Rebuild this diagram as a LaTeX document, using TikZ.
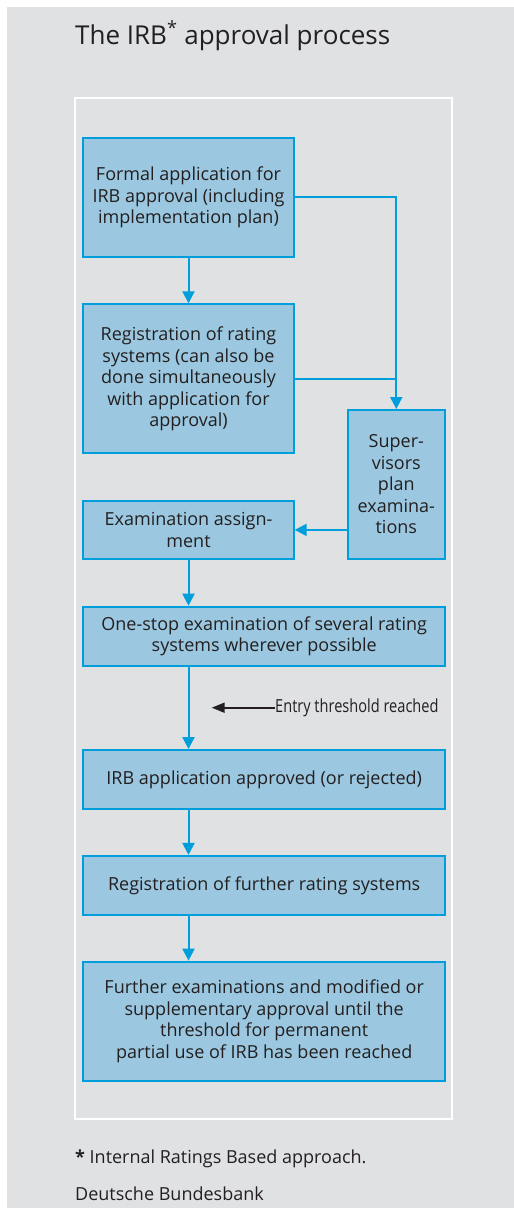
\documentclass[tikz,border=0pt]{standalone}
\usepackage{fontspec}
\setmainfont{Open Sans}
\newfontfamily\condfont[FakeStretch=0.81]{Open Sans}
\usetikzlibrary{arrows.meta}
\definecolor{bg}{RGB}{224,225,227}
\definecolor{boxfill}{RGB}{155,200,224}
\definecolor{boxline}{RGB}{0,158,219}
\definecolor{txt}{RGB}{35,31,32}
\tikzset{
  stepbox/.style={draw=boxline, fill=boxfill, line width=2pt, text=txt, align=center,
    inner sep=0pt, font=\fontsize{18}{21.5}\selectfont},
  flow/.style={draw=boxline, line width=2pt, -{Triangle[width=12pt,length=12pt]}},
  joinline/.style={draw=boxline, line width=2pt},
}
\begin{document}
\begin{tikzpicture}[x=1pt,y=-1pt]
\useasboundingbox (0,0) rectangle (514,1208);
\fill[bg] (7,7) rectangle (514,1208);
\node[anchor=base west, text=txt, font=\fontsize{26}{30}\selectfont, inner sep=0pt] (title) at (75,44) {The IRB\textsuperscript{*} approval process};
\draw[white, line width=1.5pt] (75,98) rectangle (452,1119);

\node[stepbox, minimum width=210.4pt, minimum height=119.3pt] (b1) at (188.5,197.3)
  {Formal application for\\IRB approval (including\\implementation plan)};
\node[stepbox, minimum width=210.4pt, minimum height=149pt] (b2) at (188.5,378.8)
  {Registration of rating\\systems (can also be\\done simultaneously\\with application for\\approval)};
\node[stepbox, minimum width=97.3pt, minimum height=149pt] (sup) at (396.3,484.5)
  {Super-\\visors\\plan\\examina-\\tions};
\node[stepbox, minimum width=210.4pt, minimum height=58.3pt] (exam) at (188.5,529.9)
  {Examination assign-\\ment};
\node[stepbox, minimum width=361.7pt, minimum height=59pt] (one) at (264.2,636.2)
  {One-stop examination of several rating\\systems wherever possible};
\node[stepbox, minimum width=361.7pt, minimum height=59.3pt] (irb) at (264.2,779.7)
  {IRB application approved (or rejected)};
\node[stepbox, minimum width=361.7pt, minimum height=58.7pt] (reg) at (264.2,885.3)
  {Registration of further rating systems};
\node[stepbox, minimum width=361.7pt, minimum height=119.3pt] (fin) at (264.2,1021.3)
  {Further examinations and modified or\\supplementary approval until the\\threshold for permanent\\partial use of IRB has been reached};

\node[anchor=west, inner sep=0pt, text=txt, font=\condfont\fontsize{18}{21}\selectfont] (entry) at (275,707.7) {Entry threshold reached};
\coordinate (entrytip) at (211.7,707.7);
\draw[line width=1.8pt, txt, -{Triangle[width=10pt,length=13pt]}] (entry.west) -- (entrytip);

\draw[flow] (b1.south) -- (b2.north);
\draw[flow] (b1.east) -- (b1.east -| sup.north) -- (sup.north);
\draw[joinline] (b2.east) -- (b2.east -| sup.north);
\draw[flow] (sup.west |- exam.east) -- (exam.east);
\draw[flow] (exam.south) -- (exam.south |- one.north);
\draw[flow] (exam.south |- one.south) -- (exam.south |- irb.north);
\draw[flow] (exam.south |- irb.south) -- (exam.south |- reg.north);
\draw[flow] (exam.south |- reg.south) -- (exam.south |- fin.north);

\node[anchor=base west, inner sep=0pt, text=txt, font=\fontsize{18}{21}\selectfont] (note) at (75,1163) {\textbf{*} Internal Ratings Based approach.};
\node[anchor=base west, inner sep=0pt, text=txt, font=\fontsize{18}{21}\selectfont] (src) at (75,1200.5) {Deutsche Bundesbank};
\end{tikzpicture}
\end{document}
